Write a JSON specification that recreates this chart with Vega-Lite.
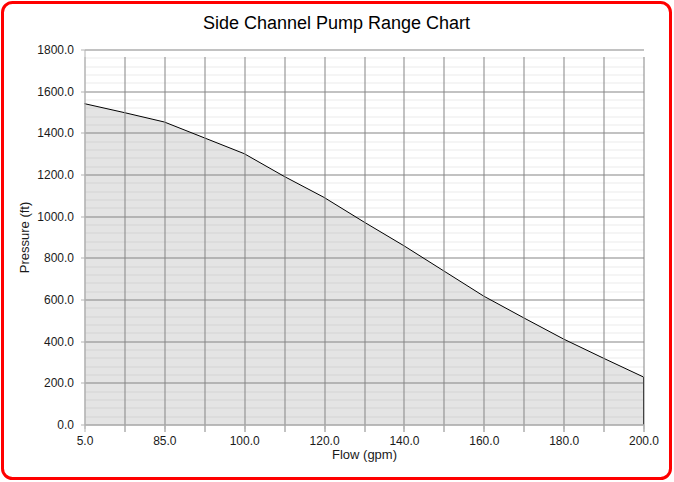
{
  "$schema": "https://vega.github.io/schema/vega-lite/v6.json",
  "width": 668,
  "height": 476,
  "autosize": {"type": "none"},
  "padding": {"left": 2.5, "top": 2.5, "right": 3.5, "bottom": 3.5},
  "title": {
    "text": "Side Channel Pump Range Chart",
    "fontSize": 18,
    "fontWeight": "normal",
    "font": "Liberation Sans",
    "color": "#000000",
    "anchor": "middle",
    "frame": "group",
    "baseline": "alphabetic",
    "offset": -26,
    "dy": 18
  },
  "data": {
    "values": [
      {"flow": "5.0", "pressure": 1540},
      {"flow": "45.0", "pressure": 1497},
      {"flow": "85.0", "pressure": 1452},
      {"flow": "92.5", "pressure": 1376},
      {"flow": "100.0", "pressure": 1300},
      {"flow": "110.0", "pressure": 1191},
      {"flow": "120.0", "pressure": 1090},
      {"flow": "130.0", "pressure": 972},
      {"flow": "140.0", "pressure": 858},
      {"flow": "150.0", "pressure": 737},
      {"flow": "160.0", "pressure": 616},
      {"flow": "170.0", "pressure": 512},
      {"flow": "180.0", "pressure": 410},
      {"flow": "190.0", "pressure": 318},
      {"flow": "200.0", "pressure": 228}
    ]
  },
  "encoding": {
    "x": {
      "field": "flow",
      "type": "ordinal",
      "sort": null,
      "scale": {"type": "point", "range": [82, 641], "padding": 0},
      "axis": {
        "title": "Flow (gpm)",
        "offset": -54,
        "grid": true,
        "zindex": 1,
        "labelAngle": 0,
        "labelExpr": "indexof(['45.0', '92.5', '110.0', '130.0', '150.0', '170.0', '190.0'], datum.value) >= 0 ? '' : datum.label",
        "tickOpacity": {"condition": {"test": "indexof(['45.0', '92.5', '110.0', '130.0', '150.0', '170.0', '190.0'], datum.value) >= 0", "value": 0}, "value": 1},
        "tickSize": 4,
        "labelPadding": 7,
        "titlePadding": 2,
        "gridColor": {"condition": {"test": "datum.value == '5.0'", "value": "#b3b3b3"}, "value": "#858585"}
      }
    },
    "y": {
      "field": "pressure",
      "type": "quantitative",
      "scale": {"domain": [0, 1800], "range": [422, 47], "nice": false},
      "axis": {
        "title": "Pressure (ft)",
        "offset": -82,
        "values": [0, 40, 80, 120, 160, 200, 240, 280, 320, 360, 400, 440, 480, 520, 560, 600, 640, 680, 720, 760, 800, 840, 880, 920, 960, 1000, 1040, 1080, 1120, 1160, 1200, 1240, 1280, 1320, 1360, 1400, 1440, 1480, 1520, 1560, 1600, 1640, 1680, 1720, 1760, 1800],
        "format": ".1f",
        "labelExpr": "datum.value % 200 === 0 ? datum.label : ''",
        "tickOpacity": {"condition": {"test": "datum.value % 200 === 0", "value": 1}, "value": 0},
        "gridColor": {"condition": {"test": "datum.value % 200 === 0", "value": "#858585"}, "value": "#ebebeb"},
        "tickSize": 4,
        "labelPadding": 7,
        "titlePadding": 5
      }
    }
  },
  "layer": [
    {
      "mark": {"type": "area", "fill": "#808080", "fillOpacity": 0.21}
    },
    {
      "mark": {"type": "line", "color": "#000000", "strokeWidth": 1}
    },
    {
      "transform": [{"filter": "datum.flow == '200.0'"}],
      "mark": {"type": "rule", "color": "#000000", "strokeWidth": 1},
      "encoding": {"y2": {"datum": 0}}
    }
  ],
  "config": {
    "view": {"stroke": "#ff0000", "strokeWidth": 3, "cornerRadius": 10},
    "axis": {
      "labelFont": "Liberation Sans",
      "titleFont": "Liberation Sans",
      "labelFontSize": 12,
      "titleFontSize": 13,
      "titleFontWeight": "normal",
      "labelColor": "#1a1a1a",
      "titleColor": "#1a1a1a",
      "domainColor": "#b3b3b3",
      "tickColor": "#b3b3b3",
      "gridWidth": 1,
      "gridOpacity": 1,
      "labelFlush": false,
      "labelOverlap": false
    }
  }
}
